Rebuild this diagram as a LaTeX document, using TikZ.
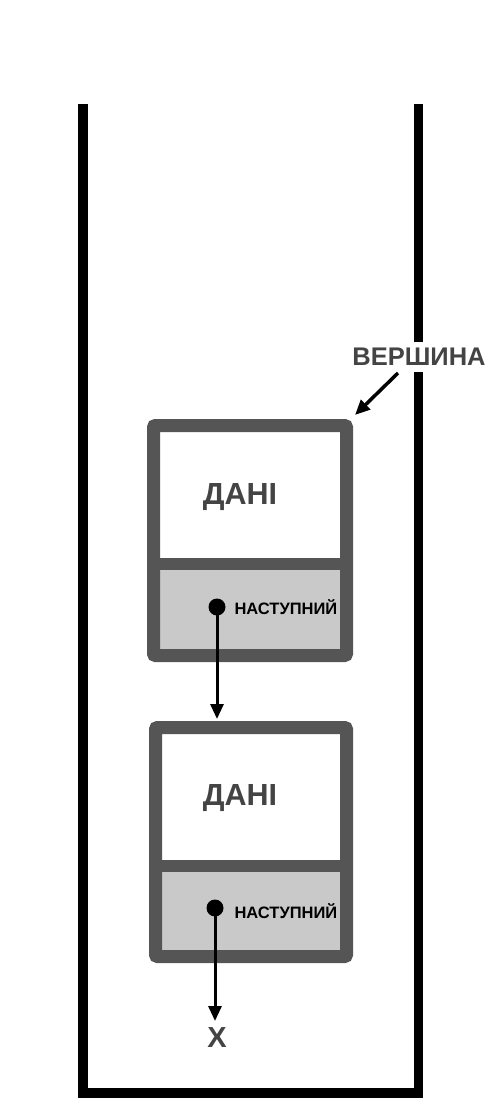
\documentclass[tikz,border=0pt]{standalone}
\usepackage{fontspec}
\setmainfont{Liberation Sans}
\usetikzlibrary{arrows.meta}
\definecolor{frame}{HTML}{555555}
\definecolor{cell}{HTML}{C9C9C9}
\definecolor{txt}{HTML}{444444}
\tikzset{
  wall/.style={line width=9.5pt, line cap=butt, line join=miter},
  boxframe/.style={draw=frame, line width=13pt, rounded corners=2pt},
  ptr/.style={line width=3pt, -{Triangle[width=13pt,length=15pt]}},
  dot/.style={circle, fill=black, inner sep=0pt, minimum size=17pt},
  big/.style={font=\bfseries\fontsize{30.5}{31}\selectfont, text=txt},
  small/.style={font=\bfseries\fontsize{16.5}{17}\selectfont, text=black},
}
\begin{document}
\begin{tikzpicture}[x=1pt,y=-1pt]
\useasboundingbox (0,0) rectangle (503,1105);
% container
\draw[wall] (83,104) -- (83,1093) -- (418.5,1093) -- (418.5,104);
% box 1
\fill[white] (153.5,425.5) rectangle (346.5,564);
\fill[cell] (153.5,564) rectangle (346.5,655.5);
\draw[frame, line width=12pt] (153.5,564) -- (346.5,564);
\draw[boxframe] (153.5,425.5) rectangle (346.5,655.5);
% box 2
\fill[white] (155.5,727.5) rectangle (346.5,866);
\fill[cell] (155.5,866) rectangle (346.5,956.5);
\draw[frame, line width=12pt] (155.5,866) -- (346.5,866);
\draw[boxframe] (155.5,727.5) rectangle (346.5,956.5);
% texts
\node[big] (d1) at (240,497) {ДАНІ};
\node[big] (d2) at (240,798) {ДАНІ};
\node[dot] (p1) at (217,607) {};
\node[dot] (p2) at (215,908) {};
\node[small, anchor=west] (n1) at (231,607) {НАСТУПНИЙ};
\node[small, anchor=west] (n2) at (231,911) {НАСТУПНИЙ};
\coordinate (b2top) at (217,719);
\coordinate (xend) at (215,1021);
\node[font=\bfseries\fontsize{29}{29}\selectfont, text=txt] (x) at (217,1038) {X};
\draw[ptr] (p1.center) -- (b2top);
\draw[ptr] (p2.center) -- (xend);
\node[font=\bfseries\fontsize{25.5}{26}\selectfont, text=txt, fill=white, inner sep=2pt, minimum height=30pt] (top) at (419,357) {ВЕРШИНА};
\coordinate (topa) at (398,373);
\coordinate (topb) at (355,415);
\draw[ptr, line width=3.5pt] (topa) -- (topb);
\end{tikzpicture}
\end{document}
